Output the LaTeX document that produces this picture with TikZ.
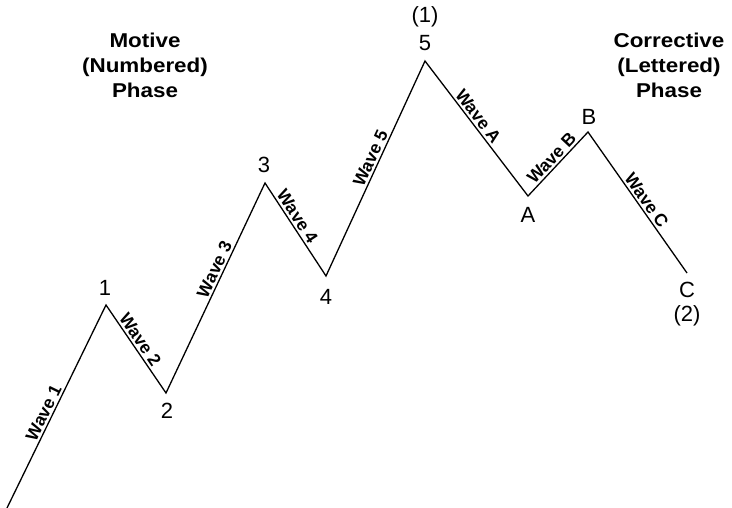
\documentclass[tikz,border=0pt]{standalone}
\usepackage{fontspec}
\setmainfont{Liberation Sans}
\begin{document}
\begin{tikzpicture}[x=1pt,y=-1pt,
  wavelbl/.style={sloped,above,inner sep=2pt,font=\bfseries\fontsize{17.5}{18}\selectfont},
  ptlbl/.style={inner sep=0pt,font=\fontsize{22}{22}\selectfont},
  phase/.style={align=center,inner sep=0pt,font=\bfseries\fontsize{20}{25}\selectfont}]
\useasboundingbox (0,0) rectangle (732,508);
\coordinate (p0) at (7,508);
\coordinate (p1) at (106,305);
\coordinate (p2) at (166,393);
\coordinate (p3) at (265,183);
\coordinate (p4) at (326,276);
\coordinate (p5) at (425,61);
\coordinate (pA) at (528,196);
\coordinate (pB) at (588,132);
\coordinate (pC) at (687,273);
\draw[line width=1.3pt,line join=miter]
  (p0) -- node[wavelbl,pos=0.45] (w1) {Wave 1}
  (p1) -- node[wavelbl,pos=0.45] (w2) {Wave 2}
  (p2) -- node[wavelbl,pos=0.57] (w3) {Wave 3}
  (p3) -- node[wavelbl,pos=0.41] (w4) {Wave 4}
  (p4) -- node[wavelbl,pos=0.53] (w5) {Wave 5}
  (p5) -- node[wavelbl,pos=0.45] (wA) {Wave A}
  (pA) -- node[wavelbl,pos=0.50] (wB) {Wave B}
  (pB) -- node[wavelbl,pos=0.52] (wC) {Wave C}
  (pC);
\node[ptlbl] (l1) at (105,288) {1};
\node[ptlbl] (l2) at (167,411) {2};
\node[ptlbl] (l3) at (264,165) {3};
\node[ptlbl] (l4) at (326,297) {4};
\node[ptlbl] (l5) at (425,43) {5};
\node[ptlbl] (l5b) at (425,17) {(1)};
\node[ptlbl] (lA) at (528,215) {A};
\node[ptlbl] (lB) at (589,117) {B};
\node[ptlbl] (lC) at (687,290) {C};
\node[ptlbl] (lCb) at (687,316) {(2)};
\node[phase] (mot) at (145,65) {\scalebox{1.12}[1]{Motive}\\\scalebox{1.12}[1]{(Numbered)}\\\scalebox{1.12}[1]{Phase}};
\node[phase] (cor) at (669,65) {\scalebox{1.12}[1]{Corrective}\\\scalebox{1.12}[1]{(Lettered)}\\\scalebox{1.12}[1]{Phase}};
\end{tikzpicture}
\end{document}
